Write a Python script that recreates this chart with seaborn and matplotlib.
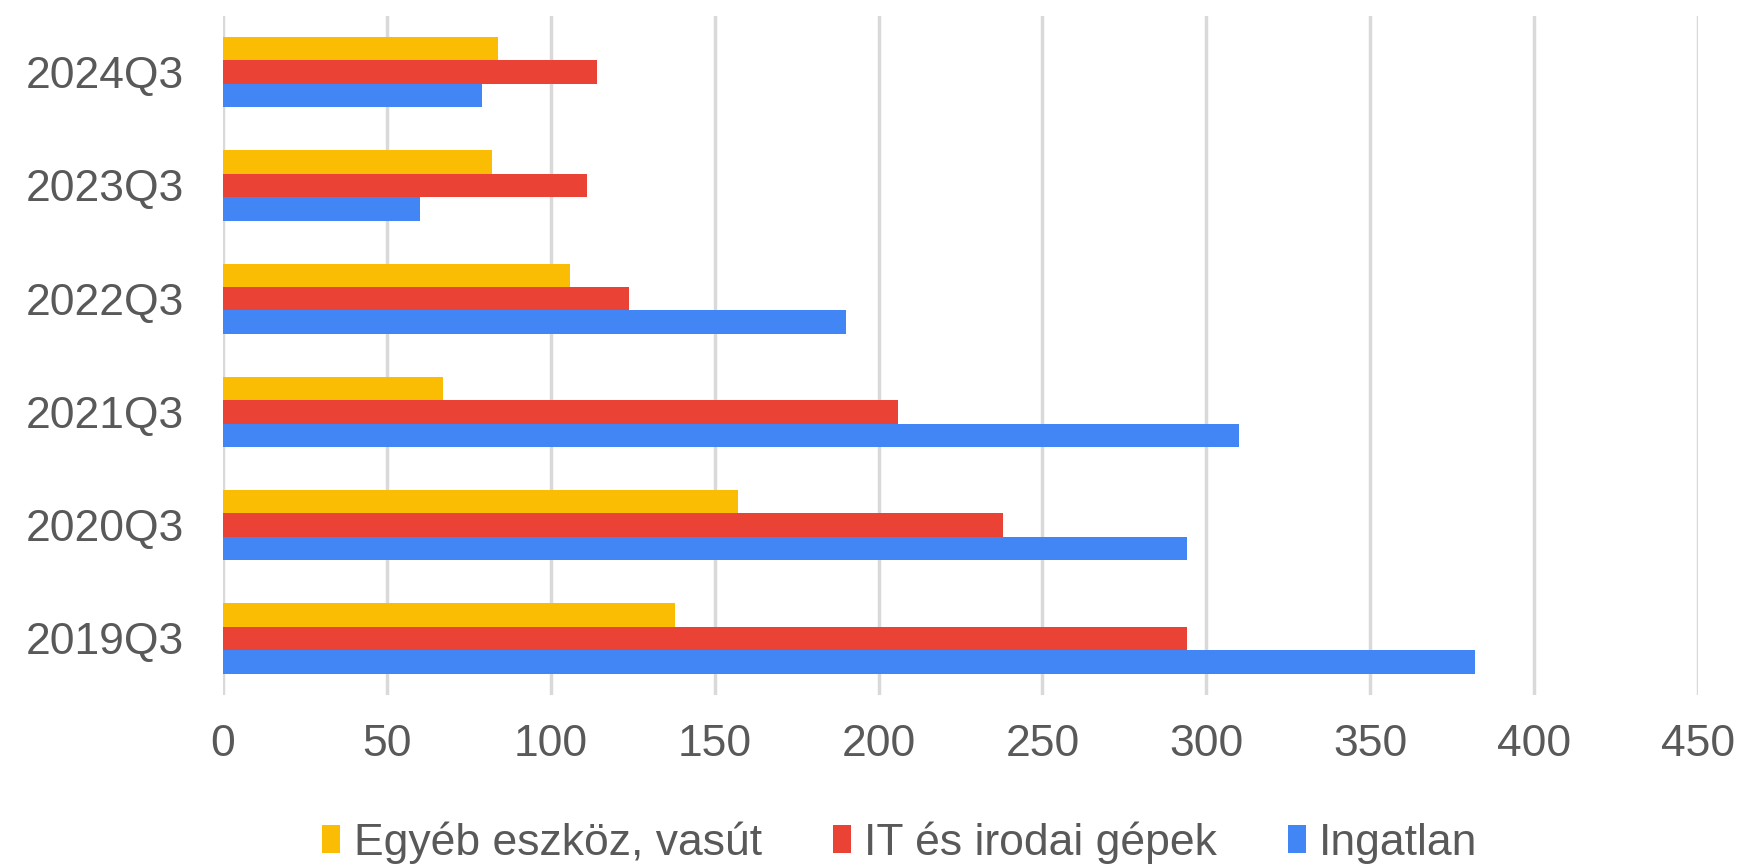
import matplotlib
matplotlib.use("Agg")
import matplotlib.pyplot as plt
import pandas as pd
import seaborn as sns

# values
quarters = ['2024Q3', '2023Q3', '2022Q3', '2021Q3', '2020Q3', '2019Q3']
egyeb = [84, 82, 106, 67, 157, 138]
it_gepek = [114, 111, 124, 206, 238, 294]
ingatlan = [79, 60, 190, 310, 294, 382]

series = ['Egyéb eszköz, vasút', 'IT és irodai gépek', 'Ingatlan']
colors = ['#FBBC04', '#EA4335', '#4285F4']

# long format for seaborn
df = pd.DataFrame({'quarter': quarters, series[0]: egyeb,
                   series[1]: it_gepek, series[2]: ingatlan})
df_long = df.melt(id_vars='quarter', var_name='type', value_name='value')

sns.set_style('white')
plt.rcParams['font.family'] = ['Liberation Sans', 'DejaVu Sans']
text_color = '#595959'

fig = plt.figure(figsize=(17.44, 8.65), dpi=100)
ax = fig.add_axes([0.1279, 0.1965, 0.8457, 0.7855])

sns.barplot(data=df_long, y='quarter', x='value', hue='type',
            order=quarters, hue_order=series, palette=colors,
            orient='h', width=0.62, linewidth=0, saturation=1, ax=ax)

ax.set_xlim(0, 450)
ax.set_ylim(5.5, -0.5)
ax.set_xticks(range(0, 451, 50))
ax.xaxis.grid(True, color='#D9D9D9', linewidth=2.5)
ax.set_axisbelow(True)
for s in ax.spines.values():
    s.set_visible(False)
ax.set_xlabel('')
ax.set_ylabel('')
ax.tick_params(axis='y', length=0, pad=28, labelsize=32, labelcolor=text_color)
ax.tick_params(axis='x', length=0, pad=21, labelsize=32, labelcolor=text_color)

handles, labels = ax.get_legend_handles_labels()
ax.get_legend().remove()
fig.legend(handles, labels, loc='center', bbox_to_anchor=(0.516, 0.026),
           ncol=3, frameon=False, fontsize=32, labelcolor=text_color,
           handlelength=0.4, handleheight=0.6, handletextpad=0.3,
           columnspacing=1.6, borderaxespad=0)

fig.savefig('out.png', dpi=100)
